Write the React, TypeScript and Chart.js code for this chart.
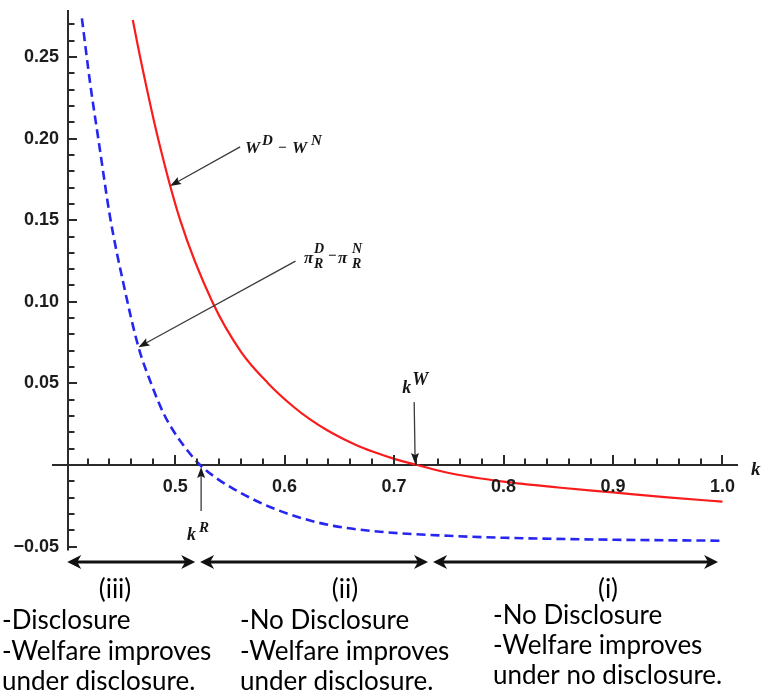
import React, { useEffect, useRef } from "react";
import { Chart, registerables } from "chart.js";

Chart.register(...registerables);

// ---------------- data ----------------
// W^D - W^N  (solid red)
const welfareK = [0.4613, 0.468, 0.4844, 0.5046, 0.5339, 0.56, 0.585, 0.6081, 0.6233, 0.6385, 0.6537, 0.6689, 0.6842, 0.6994, 0.7211, 0.75, 0.8, 0.85, 0.9, 0.95, 1.0];
const welfareDiff = [0.2727, 0.25, 0.2, 0.15, 0.1, 0.0695, 0.05, 0.0357, 0.0279, 0.0214, 0.0159, 0.0112, 0.0073, 0.0039, 0.0, -0.0049, -0.0102, -0.0138, -0.0168, -0.0198, -0.0225];

// pi_R^D - pi_R^N  (dashed blue)
const profitK = [0.4148, 0.4224, 0.43, 0.4406, 0.4528, 0.4665, 0.478, 0.4894, 0.4985, 0.5107, 0.5228, 0.538, 0.5532, 0.5837, 0.6142, 0.6446, 0.6872, 0.75, 0.8, 0.9, 1.0];
const profitDiff = [0.2737, 0.2336, 0.199, 0.1517, 0.111, 0.0722, 0.05, 0.0316, 0.0208, 0.0093, 0.0, -0.0082, -0.0146, -0.0249, -0.0323, -0.0373, -0.0409, -0.0434, -0.0446, -0.0458, -0.0464];

// axes
const X_MIN = 0.4021;
const X_MAX = 1.0142;
const Y_MIN = -0.0524;
const Y_MAX = 0.2788;
const xTickValues = [0.5, 0.6, 0.7, 0.8, 0.9, 1.0];
const xTickLabels = ["0.5", "0.6", "0.7", "0.8", "0.9", "1.0"];
const yTickValues = [-0.05, 0.05, 0.1, 0.15, 0.2, 0.25];
const yTickLabels = ["\u22120.05", "0.05", "0.10", "0.15", "0.20", "0.25"];
const xMinorTicks = [0.42, 0.44, 0.46, 0.48, 0.52, 0.54, 0.56, 0.58, 0.62, 0.64, 0.66, 0.68, 0.72, 0.74, 0.76, 0.78, 0.82, 0.84, 0.86, 0.88, 0.92, 0.94, 0.96, 0.98];
const yMinorTicks = [-0.04, -0.03, -0.02, -0.01, 0.01, 0.02, 0.03, 0.04, 0.06, 0.07, 0.08, 0.09, 0.11, 0.12, 0.13, 0.14, 0.16, 0.17, 0.18, 0.19, 0.21, 0.22, 0.23, 0.24, 0.26, 0.27];

// threshold points
const kR = 0.5228;
const kW = 0.7211;

// region annotations
const regionSpans = [
  [0.4014, 0.5183],
  [0.5228, 0.731],
  [0.7356, 0.996],
];
const regionNames = ["(iii)", "(ii)", "(i)"];
const regionLines = [
  ["-Disclosure", "-Welfare improves", "under disclosure."],
  ["-No Disclosure", "-Welfare improves", "under disclosure."],
  ["-No Disclosure", "-Welfare improves", "under no disclosure."],
];

const RED = "rgb(250,28,28)";
const BLUE = "rgb(38,38,240)";
const AXIS = "#2a2a2a";
const SERIF = "'Liberation Serif', 'DejaVu Serif', serif";
const SANS = "'Liberation Sans', Arial, sans-serif";
const TEXT = "Lato, 'Open Sans', sans-serif";

function arrowHead(ctx: CanvasRenderingContext2D, tx: number, ty: number, fx: number, fy: number, len: number, hw: number, notch: number) {
  const ang = Math.atan2(ty - fy, tx - fx);
  const c = Math.cos(ang), s = Math.sin(ang);
  const bx = tx - len * c, by = ty - len * s;
  ctx.beginPath();
  ctx.moveTo(tx, ty);
  ctx.lineTo(bx - hw * s, by + hw * c);
  ctx.lineTo(tx - (len - notch) * c, ty - (len - notch) * s);
  ctx.lineTo(bx + hw * s, by - hw * c);
  ctx.closePath();
  ctx.fill();
}

function arrow(ctx: CanvasRenderingContext2D, fx: number, fy: number, tx: number, ty: number) {
  ctx.save();
  ctx.setLineDash([]);
  ctx.strokeStyle = "#3a3a3a";
  ctx.fillStyle = "#1a1a1a";
  ctx.lineWidth = 1.3;
  const ang = Math.atan2(ty - fy, tx - fx);
  ctx.beginPath();
  ctx.moveTo(fx, fy);
  ctx.lineTo(tx - 6 * Math.cos(ang), ty - 6 * Math.sin(ang));
  ctx.stroke();
  arrowHead(ctx, tx, ty, fx, fy, 11, 4, 2);
  ctx.restore();
}

function txt(ctx: CanvasRenderingContext2D, s: string, x: number, y: number, font: string) {
  ctx.font = font;
  ctx.fillText(s, x, y);
}

function drawAxes(chart: any) {
  const { ctx, chartArea, scales } = chart;
  const ys = scales.y;
  const y0 = ys.getPixelForValue(0);
  const x0 = chartArea.left;
  ctx.save();
  ctx.setLineDash([]);
  ctx.fillStyle = AXIS;
  ctx.fillRect(x0 - 16, Math.round(y0) - 1, chartArea.right - x0 + 16, 2);
  ctx.fillRect(Math.round(x0) - 1, chartArea.top, 2, chartArea.bottom - chartArea.top);
  ctx.restore();
}

function drawTicks(chart: any) {
  const { ctx, chartArea, scales } = chart;
  const xs = scales.x, ys = scales.y;
  const y0 = Math.round(ys.getPixelForValue(0));
  const x0 = Math.round(chartArea.left);
  ctx.save();
  ctx.fillStyle = AXIS;
  const xTick = (v: number, len: number) => {
    const px = Math.round(xs.getPixelForValue(v));
    ctx.fillRect(px - 1, y0 - len, 2, len);
  };
  const yTick = (v: number, len: number) => {
    const py = Math.round(ys.getPixelForValue(v));
    ctx.fillRect(x0, py - 1, len, 2);
  };
  xMinorTicks.forEach((v) => xTick(v, 6.5));
  xTickValues.forEach((v) => xTick(v, 10));
  yMinorTicks.forEach((v) => yTick(v, 6.5));
  yTickValues.forEach((v) => yTick(v, 9));

  ctx.fillStyle = "#1c1c1c";
  ctx.font = `bold 18px ${SANS}`;
  ctx.textBaseline = "middle";
  ctx.textAlign = "center";
  xTickValues.forEach((v, i) => {
    ctx.fillText(xTickLabels[i], xs.getPixelForValue(v), y0 + 22);
  });
  ctx.textAlign = "right";
  yTickValues.forEach((v, i) => {
    ctx.fillText(yTickLabels[i], x0 - 9, ys.getPixelForValue(v));
  });
  ctx.restore();
}

const mathPlugin = {
  id: "mathAxes",
  beforeDatasetsDraw(chart: any) {
    drawAxes(chart);
  },
  afterDraw(chart: any) {
    drawTicks(chart);
    const { ctx, chartArea, scales } = chart;
    const xs = scales.x, ys = scales.y;
    const y0 = ys.getPixelForValue(0);
    ctx.save();
    ctx.setLineDash([]);
    ctx.fillStyle = "#161616";
    ctx.textBaseline = "alphabetic";
    ctx.textAlign = "left";

    // axis label k
    txt(ctx, "k", chartArea.right + 13, y0 + 10, `bold italic 19px ${SERIF}`);

    // W^D - W^N
    const rTip = { x: xs.getPixelForValue(0.4954), y: ys.getPixelForValue(0.171) };
    arrow(ctx, rTip.x + 70, rTip.y - 39, rTip.x, rTip.y);
    let bx = 245, by = 153;
    txt(ctx, "W", bx, by, `bold italic 17px ${SERIF}`);
    txt(ctx, "D", bx + 17, by - 8, `bold italic 15px ${SERIF}`);
    txt(ctx, "\u2212", bx + 33, by - 1, `bold 15px ${SERIF}`);
    txt(ctx, "W", bx + 47, by, `bold italic 17px ${SERIF}`);
    txt(ctx, "N", bx + 66, by - 8, `bold italic 15px ${SERIF}`);

    // pi_R^D - pi_R^N
    const bTip = { x: xs.getPixelForValue(0.4665), y: ys.getPixelForValue(0.0722) };
    arrow(ctx, bTip.x + 157, bTip.y - 86, bTip.x, bTip.y);
    bx = 304; by = 263;
    txt(ctx, "\u03c0", bx, by, `bold italic 17px ${SERIF}`);
    txt(ctx, "D", bx + 10, by - 10, `bold italic 14px ${SERIF}`);
    txt(ctx, "R", bx + 10, by + 5, `bold italic 14px ${SERIF}`);
    txt(ctx, "\u2212", bx + 24, by - 3, `bold 15px ${SERIF}`);
    txt(ctx, "\u03c0", bx + 34, by, `bold italic 17px ${SERIF}`);
    txt(ctx, "N", bx + 48, by - 10, `bold italic 14px ${SERIF}`);
    txt(ctx, "R", bx + 48, by + 5, `bold italic 14px ${SERIF}`);

    // k^W
    const wx = xs.getPixelForValue(kW) - 2;
    arrow(ctx, wx - 1, y0 - 63, wx, y0 - 1);
    txt(ctx, "k", wx - 13, y0 - 72, `bold italic 18px ${SERIF}`);
    txt(ctx, "W", wx - 3, y0 - 80, `bold italic 18px ${SERIF}`);

    // k^R
    const rx = xs.getPixelForValue(kR) + 1;
    arrow(ctx, rx, y0 + 46, rx, y0 + 2);
    txt(ctx, "k", rx - 14, y0 + 75, `bold italic 18px ${SERIF}`);
    txt(ctx, "R", rx - 2, y0 + 67, `bold italic 15px ${SERIF}`);

    // region double arrows
    const ay = chartArea.bottom + 11.5;
    ctx.strokeStyle = "#111";
    ctx.fillStyle = "#111";
    ctx.lineWidth = 2.8;
    regionSpans.forEach(([a, b]) => {
      const pa = xs.getPixelForValue(a), pb = xs.getPixelForValue(b);
      ctx.beginPath();
      ctx.moveTo(pa + 8, ay);
      ctx.lineTo(pb - 8, ay);
      ctx.stroke();
      arrowHead(ctx, pa, ay, pb, ay, 14, 7, 4);
      arrowHead(ctx, pb, ay, pa, ay, 14, 7, 4);
    });

    // region texts
    const colLeft = [2, 240, 493];
    const colName = [115, 345, 608];
    const colRows = [
      [621, 652, 682],
      [621, 652, 682],
      [616, 646, 676],
    ];
    ctx.fillStyle = "#000";
    ctx.textBaseline = "middle";
    ctx.font = `26px ${TEXT}`;
    regionNames.forEach((n, i) => {
      ctx.textAlign = "center";
      ctx.fillText(n, colName[i], 590);
      ctx.textAlign = "left";
      regionLines[i].forEach((line, j) => {
        ctx.fillText(line, colLeft[i], colRows[i][j]);
      });
    });
    ctx.restore();
  },
};

export default function App() {
  const ref = useRef<HTMLCanvasElement | null>(null);
  useEffect(() => {
    if (!ref.current) return;
    const chart = new Chart(ref.current, {
      type: "line",
      data: {
        datasets: [
          {
            label: "W^D - W^N",
            data: welfareK.map((k, i) => ({ x: k, y: welfareDiff[i] })),
            borderColor: RED,
            borderWidth: 2.2,
            pointRadius: 0,
            fill: false,
            cubicInterpolationMode: "monotone",
          },
          {
            label: "pi_R^D - pi_R^N",
            data: profitK.map((k, i) => ({ x: k, y: profitDiff[i] })),
            borderColor: BLUE,
            borderWidth: 2.6,
            borderDash: [9, 5],
            pointRadius: 0,
            fill: false,
            cubicInterpolationMode: "monotone",
          },
        ],
      },
      options: {
        animation: false,
        responsive: false,
        maintainAspectRatio: false,
        devicePixelRatio: 1,
        layout: { padding: { left: 68, right: 24, top: 10, bottom: 146.5 } },
        plugins: { legend: { display: false }, tooltip: { enabled: false } },
        scales: {
          x: { type: "linear", min: X_MIN, max: X_MAX, display: false },
          y: { type: "linear", min: Y_MIN, max: Y_MAX, display: false },
        },
      },
      plugins: [mathPlugin],
    } as any);
    return () => chart.destroy();
  }, []);
  return (
    <div style={{ position: "absolute", left: 0, top: 0, width: 762, height: 697, background: "#fff" }}>
      <canvas ref={ref} width={762} height={697} style={{ display: "block" }} />
    </div>
  );
}
